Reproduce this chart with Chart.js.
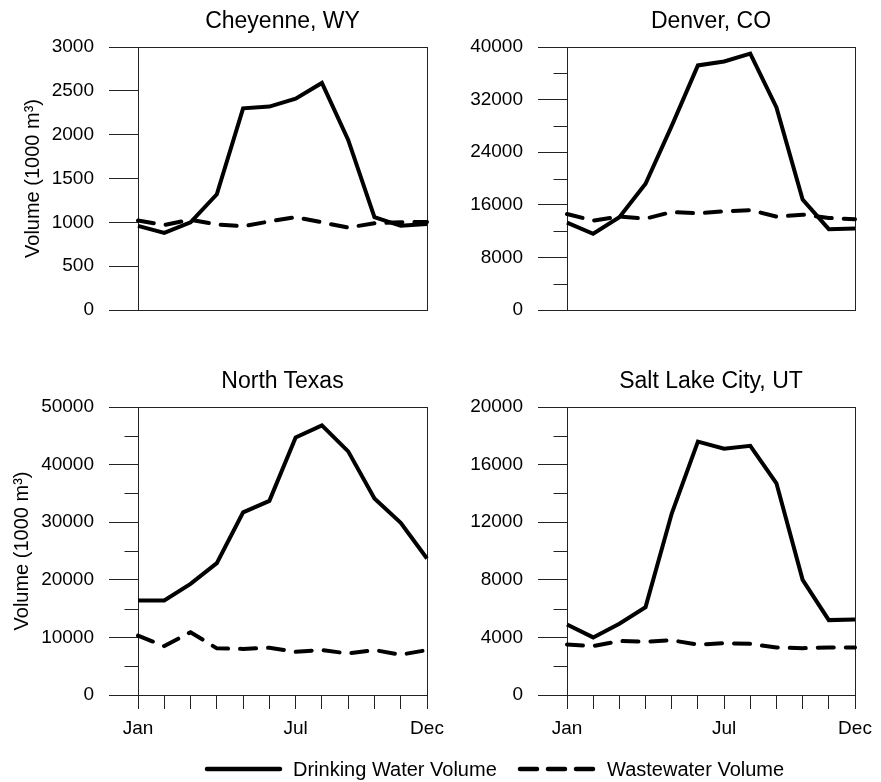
<!DOCTYPE html>
<html>
<head>
<meta charset="utf-8">
<script src="https://cdn.jsdelivr.net/npm/chart.js@4.4.1/dist/chart.umd.min.js"></script>
<style>
  html, body { margin: 0; padding: 0; background: #fff; }
  body { width: 881px; height: 782px; position: relative; overflow: hidden;
         font-family: 'Liberation Sans', Arial, Helvetica, sans-serif; color: #000; }
  canvas { position: absolute; }
  .title { position: absolute; text-align: center; font-size: 23px; line-height: 23px; white-space: nowrap; }
  .legend { position: absolute; top: 757px; left: 0; width: 881px; height: 24px; font-size: 20px; line-height: 24px; }
  .legend svg { position: absolute; top: 0; }
  .legend span { position: absolute; top: 0; }
</style>
</head>
<body>
<canvas id="cheyenne" width="460" height="360" style="left:0;top:0"></canvas>
<canvas id="denver" width="441" height="360" style="left:440px;top:0"></canvas>
<canvas id="northTexas" width="460" height="400" style="left:0;top:360px"></canvas>
<canvas id="saltLake" width="441" height="400" style="left:440px;top:360px"></canvas>

<div class="title" style="left:138px;width:289px;top:9px">Cheyenne, WY</div>
<div class="title" style="left:567px;width:288px;top:9px">Denver, CO</div>
<div class="title" style="left:138px;width:289px;top:369px">North Texas</div>
<div class="title" style="left:567px;width:288px;top:369px">Salt Lake City, UT</div>

<div class="legend">
  <svg width="90" height="24" style="left:200px"><line x1="7" y1="12" x2="80" y2="12" stroke="#000" stroke-width="4.5" stroke-linecap="round"/></svg>
  <span style="left:293px">Drinking Water Volume</span>
  <svg width="90" height="24" style="left:513px"><line x1="7" y1="12" x2="80" y2="12" stroke="#000" stroke-width="4.5" stroke-linecap="round" stroke-dasharray="17 11"/></svg>
  <span style="left:607px">Wastewater Volume</span>
</div>

<script>
// Monthly volumes, 1000 m3
const MONTHS = ['Jan', 'Feb', 'Mar', 'Apr', 'May', 'Jun', 'Jul', 'Aug', 'Sep', 'Oct', 'Nov', 'Dec'];
const X_LABELS_SHOWN = ['Jan', 'Jul', 'Dec'];

const cheyenneDrinking = [960, 880, 1000, 1320, 2300, 2320, 2410, 2590, 1940, 1060, 960, 980];
const cheyenneWaste = [1020, 970, 1030, 975, 955, 1010, 1060, 1000, 940, 990, 1000, 1005];

const denverDrinking = [13300, 11600, 14100, 19200, 28000, 37200, 37800, 39000, 30800, 16800, 12300, 12400];
const denverWaste = [14600, 13600, 14200, 13900, 14900, 14700, 15000, 15200, 14200, 14500, 14000, 13800];

const northTexasDrinking = [16400, 16400, 19300, 22900, 31700, 33700, 44700, 46800, 42300, 34100, 29900, 23700];
const northTexasWaste = [10300, 8500, 10900, 8100, 8000, 8200, 7500, 7800, 7200, 7800, 7000, 7800];

const saltLakeDrinking = [4900, 4000, 4950, 6100, 12600, 17600, 17100, 17300, 14700, 8000, 5200, 5250];
const saltLakeWaste = [3500, 3400, 3750, 3700, 3800, 3500, 3600, 3550, 3300, 3250, 3300, 3300];

// y axis: [max, labelled step]
const cheyenneAxis = [3000, 500];
const denverAxis = [40000, 8000];
const northTexasAxis = [50000, 10000];
const saltLakeAxis = [20000, 4000];

const Y_TITLE = 'Volume (1000 m\u00B3)';
const AXIS_COLOR = '#222';
const FONT = "'Liberation Sans', Arial, sans-serif";

// box round the plot + short minor ticks
const framePlugin = {
  id: 'frame',
  beforeDatasetsDraw(chart, args, opts) {
    const { ctx, chartArea: a, scales: { y } } = chart;
    ctx.save();
    ctx.strokeStyle = AXIS_COLOR;
    ctx.lineWidth = 1;
    const l = Math.round(a.left) + 0.5, t = Math.round(a.top) + 0.5;
    const r = Math.round(a.right) + 0.5, b = Math.round(a.bottom) + 0.5;
    ctx.strokeRect(l, t, r - l, b - t);
    y.ticks.forEach(tk => {
      if (tk.value % opts.major !== 0) {
        const py = Math.round(y.getPixelForValue(tk.value)) + 0.5;
        ctx.beginPath();
        ctx.moveTo(l - 14, py);
        ctx.lineTo(l, py);
        ctx.stroke();
      }
    });
    ctx.restore();
  }
};

function createPanel(canvasId, { drinking, waste, axis, left, right, showX, showYTitle, yTitlePad }) {
  const canvas = document.getElementById(canvasId);
  const [yMax, major] = axis;
  const xHeight = canvas.height - 335;
  return new Chart(canvas.getContext('2d'), {
    type: 'line',
    data: {
      labels: MONTHS,
      datasets: [
        { data: drinking, borderColor: '#000', borderWidth: 4, pointRadius: 0, tension: 0,
          borderJoinStyle: 'miter', borderCapStyle: 'butt' },
        { data: waste, borderColor: '#000', borderWidth: 4, pointRadius: 0, tension: 0,
          borderDash: [16, 12], borderCapStyle: 'round' },
      ],
    },
    options: {
      responsive: false,
      animation: false,
      events: [],
      layout: { padding: { left: 0, top: 47, right: canvas.width - right, bottom: showX ? 0 : canvas.height - 335 } },
      plugins: { legend: { display: false }, tooltip: { enabled: false }, frame: { major } },
      scales: {
        x: {
          display: showX,
          offset: false,
          grid: { drawOnChartArea: false, drawTicks: true, tickLength: 14, color: AXIS_COLOR },
          border: { display: false },
          ticks: {
            autoSkip: false, maxRotation: 0, padding: 8, color: '#000',
            font: { family: FONT, size: 19 },
            callback(v) { const m = MONTHS[v]; return X_LABELS_SHOWN.includes(m) ? m : ''; },
          },
          afterFit(s) { s.height = xHeight; s.paddingLeft = 0; s.paddingRight = 0; },
        },
        y: {
          min: 0, max: yMax,
          grid: { drawOnChartArea: false, drawTicks: true, tickLength: 29,
                  tickColor: c => (c.tick && c.tick.value % major === 0 ? AXIS_COLOR : 'rgba(0,0,0,0)') },
          border: { display: false },
          ticks: {
            stepSize: major / 2, padding: 15, color: '#000',
            font: { family: FONT, size: 19 },
            callback: v => (v % major === 0 ? String(v) : ''),
          },
          title: { display: showYTitle, text: Y_TITLE, color: '#000',
                   font: { family: FONT, size: 20 }, padding: { top: yTitlePad, bottom: 0 } },
          afterFit(s) { s.width = left; },
        },
      },
    },
    plugins: [framePlugin],
  });
}

createPanel('cheyenne', { drinking: cheyenneDrinking, waste: cheyenneWaste, axis: cheyenneAxis,
  left: 138, right: 427, showX: false, showYTitle: true, yTitlePad: 21 });
createPanel('denver', { drinking: denverDrinking, waste: denverWaste, axis: denverAxis,
  left: 127, right: 415, showX: false, showYTitle: false, yTitlePad: 0 });
createPanel('northTexas', { drinking: northTexasDrinking, waste: northTexasWaste, axis: northTexasAxis,
  left: 138, right: 427, showX: true, showYTitle: true, yTitlePad: 10 });
createPanel('saltLake', { drinking: saltLakeDrinking, waste: saltLakeWaste, axis: saltLakeAxis,
  left: 127, right: 415, showX: true, showYTitle: false, yTitlePad: 0 });
</script>
</body>
</html>
